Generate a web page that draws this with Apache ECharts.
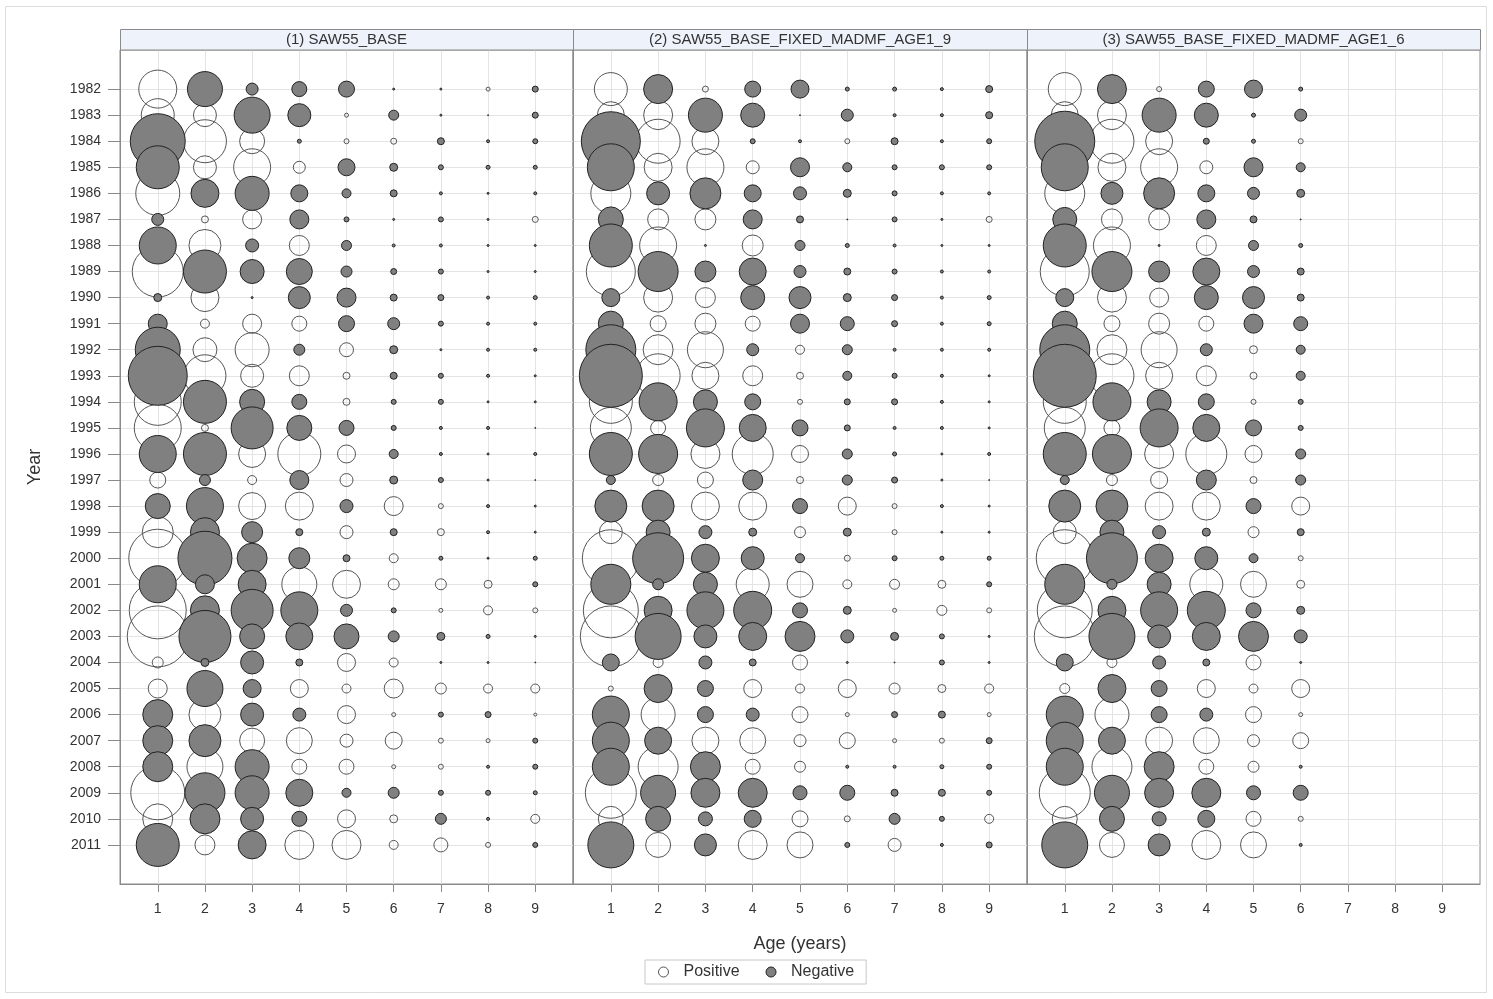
<!DOCTYPE html>
<html>
<head>
<meta charset="utf-8">
<script src="https://cdn.jsdelivr.net/npm/echarts@6/dist/echarts.min.js"></script>
<style>
html,body{margin:0;padding:0;background:#fff;}
#chart{width:1493px;height:999px;}
</style>
</head>
<body>
<div id="chart"></div>
<script>
// ---------------- data ----------------
const years = [1982,1983,1984,1985,1986,1987,1988,1989,1990,1991,1992,1993,1994,1995,1996,
               1997,1998,1999,2000,2001,2002,2003,2004,2005,2006,2007,2008,2009,2010,2011];
const ages = [1,2,3,4,5,6,7,8,9];
const panelTitles = ['(1) SAW55_BASE', '(2) SAW55_BASE_FIXED_MADMF_AGE1_9', '(3) SAW55_BASE_FIXED_MADMF_AGE1_6'];
const legendNames = ['Positive', 'Negative'];

// signed bubble magnitudes, one row per year, one column per age
const resid1 = [
  [ 38,-35,-12,-15,-16, -2, -2,  4, -6],
  [ 33, 23,-36,-23,  4,-10, -2, -1, -6],
  [-55, 43, 25, -4,  5,  6, -7, -3, -5],
  [-43, 23, 37, 12,-17, -8, -5, -4, -4],
  [ 44,-28,-34,-17, -9, -7, -3, -2, -3],
  [-12,  7, 19,-19, -5, -2, -5, -2,  6],
  [-37, 32,-13, 20,-10, -3, -3, -2, -2],
  [ 51,-43,-24,-26,-11, -6, -5, -2, -2],
  [ -8, 28, -2,-22,-19, -7, -6, -3, -4],
  [-19,  9, 19, 15,-16,-12, -5, -3, -3],
  [-45, 24, 34,-11, 14, -8, -2, -3, -3],
  [-59, 42, 23, 20,  7, -7, -5, -3, -2],
  [ 47,-43,-25,-15,  7, -5, -5, -2, -2],
  [ 47,  7,-42,-25,-15, -5, -3, -3, -1],
  [-37,-43, 27, 43, 18, -9, -3, -2, -3],
  [ 16,-11,  9,-19, 13, -8, -5, -2, -1],
  [-25,-37, 27, 28,-13, 19,  5, -3, -2],
  [ 31,-29,-21, -7, 13, -7,  7, -3, -2],
  [ 58,-54,-30,-21, -7,  9, -4, -2, -4],
  [-37,-19,-28, 35, 28, 11, 11,  8, -5],
  [ 57,-29,-42,-37,-12, -5,  4,  9,  5],
  [ 61,-52,-25,-27,-25,-11, -8, -4, -2],
  [ 11, -8,-23, -7, 18,  9, -2, -2, -1],
  [ 19,-36,-18, 18,  9, 19, 11,  9,  9],
  [-30, 32,-23,-13, 18,  4, -5, -6,  3],
  [-30,-32, 25, 26, 13, 17,  5,  4, -5],
  [-30, 36,-34, 15, 15,  4,  5, -3, -5],
  [ 54,-40,-34,-27, -9,-11, -5, -5, -4],
  [ 30,-30,-23,-15, 18,  8,-11, -3,  9],
  [-43, 20,-28, 29, 29,  9, 14,  5, -5]
];
const resid2 = [
  [ 33,-29,  6,-16,-18, -4, -4, -3, -7],
  [ 27, 29,-34,-24, -1,-12, -3, -3, -7],
  [-59, 44, 27, -5, -3,  5, -7, -3, -5],
  [-47, 28, 37, 13,-19, -9, -5, -5, -5],
  [ 40,-23,-31,-17,-13, -8, -5, -3, -3],
  [-25, 21, 21,-19, -7, -1, -5, -2,  6],
  [-43, 37, -2, 21,-10, -4, -3, -2, -2],
  [ 49,-40,-21,-27,-12, -7, -5, -3, -3],
  [-18, 29, 20,-24,-22, -8, -6, -3, -4],
  [-25, 16, 21, 15,-19,-14, -6, -3, -4],
  [-50, 30, 36,-12,  9,-10, -3, -3, -3],
  [-63, 44, 27, 20,  7, -9, -5, -3, -2],
  [ 43,-38,-24,-16,  5, -6, -6, -3, -2],
  [ 41, 15,-38,-27,-16, -6, -3, -3, -2],
  [-43,-39, 29, 41, 17,-10, -4, -2, -3],
  [ -9, 11, 16,-20,  7,-10, -6, -2, -1],
  [-32,-32, 28, 28,-15, 18,  5, -3, -2],
  [ 23,-24,-13, -8, 11, -8,  5, -2, -2],
  [ 57,-51,-28,-23, -9,  6, -5, -4, -4],
  [-40,-11,-24, 33, 26,  9, 10,  8, -5],
  [ 55,-28,-37,-38,-15, -8,  4, 10,  5],
  [ 61,-46,-23,-28,-30,-13, -8, -5, -2],
  [-17, 10,-13, -7, 15, -2, -1, -5, -2],
  [  5,-28,-16, 18,  9, 18, 11,  8,  9],
  [-37, 34,-16,-13, 16,  4, -6, -7,  4],
  [-37,-27, 27, 26, 12, 16,  4,  5, -6],
  [-37, 40,-30, 15, 11, -3, -3, -4, -5],
  [ 51,-35,-29,-29,-14,-15, -7, -7, -5],
  [ 25,-25,-14,-17, 16,  6,-11, -5,  9],
  [-46, 25,-22, 29, 26, -5, 13, -3, -6]
];
const resid3 = [
  [ 33,-29,  5,-16,-18, -4],
  [ 27, 29,-34,-24, -4,-12],
  [-60, 44, 27, -6, -4,  5],
  [-47, 28, 37, 13,-19, -9],
  [ 40,-22,-31,-17,-12, -8],
  [-24, 21, 21,-19, -7, -1],
  [-43, 37, -2, 20,-10, -4],
  [ 49,-40,-21,-27,-12, -7],
  [-18, 29, 19,-24,-22, -7],
  [-25, 16, 21, 15,-19,-14],
  [-50, 30, 36,-12,  8, -9],
  [-63, 44, 27, 20,  7, -9],
  [ 43,-38,-24,-16,  5, -5],
  [ 41, 16,-38,-27,-16, -5],
  [-43,-39, 29, 41, 17,-10],
  [ -9, 11, 17,-20,  7,-10],
  [-32,-32, 28, 28,-15, 18],
  [ 23,-24,-13, -8, 11, -7],
  [ 57,-51,-28,-23, -9,  5],
  [-40,-10,-24, 33, 26,  8],
  [ 55,-28,-37,-38,-15, -8],
  [ 61,-46,-23,-28,-30,-13],
  [-17, 10,-13, -7, 15, -2],
  [ 10,-28,-16, 18,  9, 18],
  [-37, 34,-16,-13, 16,  4],
  [-37,-27, 27, 26, 12, 16],
  [-37, 40,-30, 15, 11, -3],
  [ 51,-35,-29,-29,-14,-15],
  [ 25,-25,-14,-17, 15,  5],
  [-46, 25,-22, 29, 26, -3]
];
const panels = [resid1, resid2, resid3];

// ---------------- layout/style ----------------
const FONT = '"Liberation Sans", Arial, sans-serif';
const BUBBLE_SCALE = 1;
const gridLefts = [120, 573, 1027];
const gridWidths = [453, 454, 453];
const GRID_TOP = 50, GRID_H = 834;

const grids = [], xAxes = [], yAxes = [], series = [], graphics = [];

panels.forEach((mat, p) => {
  grids.push({left: gridLefts[p], top: GRID_TOP, width: gridWidths[p], height: GRID_H,
              show: true, borderColor: '#8a8a8a', borderWidth: 1, backgroundColor: 'transparent'});
  xAxes.push({
    gridIndex: p, type: 'value', min: 0.2, max: 9.8,
    name: p === 1 ? 'Age (years)' : '', nameLocation: 'middle', nameGap: 51,
    nameTextStyle: {fontFamily: FONT, fontSize: 18, color: '#333'},
    axisLine: {show: true, onZero: false, lineStyle: {color: '#8a8a8a'}},
    axisTick: {show: true, customValues: ages, length: 8, lineStyle: {color: '#8a8a8a'}},
    axisLabel: {customValues: ages, fontFamily: FONT, fontSize: 14, color: '#333', margin: 18,
                formatter: v => String(v)},
    splitLine: {show: true, lineStyle: {color: '#e4e4e4'}}
  });
  yAxes.push({
    gridIndex: p, type: 'value', min: 1980.5, max: 2012.5, inverse: true,
    name: p === 0 ? 'Year' : '', nameLocation: 'middle', nameGap: 76,
    nameTextStyle: {fontFamily: FONT, fontSize: 18, color: '#333'},
    axisLine: {show: true, onZero: false, lineStyle: {color: '#8a8a8a'}},
    axisTick: {show: p === 0, customValues: years, length: 12, lineStyle: {color: '#8a8a8a'}},
    axisLabel: {show: p === 0, customValues: years, fontFamily: FONT, fontSize: 14, color: '#333',
                margin: 19, formatter: v => String(v)},
    splitLine: {show: true, lineStyle: {color: '#e4e4e4'}}
  });
  const pos = [], neg = [];
  mat.forEach((row, i) => {
    row.forEach((v, j) => {
      const pt = [ages[j], years[i], v];
      if (v >= 0) pos.push(pt); else neg.push(pt);
    });
  });
  series.push({
    type: 'scatter', name: legendNames[0], xAxisIndex: p, yAxisIndex: p, silent: true,
    symbol: 'circle', symbolSize: d => Math.abs(d[2]) * BUBBLE_SCALE, data: pos, z: 2,
    itemStyle: {color: 'rgba(255,255,255,0)', borderColor: '#555', borderWidth: 1, opacity: 1}
  });
  series.push({
    type: 'scatter', name: legendNames[1], xAxisIndex: p, yAxisIndex: p, silent: true,
    symbol: 'circle', symbolSize: d => Math.abs(d[2]) * BUBBLE_SCALE, data: neg, z: 3,
    itemStyle: {color: '#808080', borderColor: '#222', borderWidth: 1, opacity: 1}
  });
  // panel header strip
  graphics.push({
    type: 'rect', z: 10,
    shape: {x: gridLefts[p] + 0.5, y: 29.5, width: gridWidths[p], height: 20.5},
    style: {fill: '#eef2fa', stroke: '#8a8a8a', lineWidth: 1}
  });
  graphics.push({
    type: 'text', z: 11, x: gridLefts[p] + gridWidths[p] / 2, y: 40,
    style: {text: panelTitles[p], fontFamily: FONT, fontSize: 15, fill: '#333',
            textAlign: 'center', textVerticalAlign: 'middle'}
  });
});

graphics.push({
  type: 'rect', z: -1, silent: true,
  shape: {x: 5.5, y: 6.5, width: 1481, height: 986},
  style: {fill: 'none', stroke: '#dcdcdc', lineWidth: 1}
});

const option = {
  animation: false,
  backgroundColor: '#fff',
  grid: grids,
  xAxis: xAxes,
  yAxis: yAxes,
  series: series,
  graphic: graphics,
  legend: {
    left: 645, top: 960,
    padding: [4, 12, 4, 13],
    itemGap: 26, itemWidth: 10, itemHeight: 10,
    borderColor: '#c8c8c8', borderWidth: 1,
    selectedMode: false,
    textStyle: {fontFamily: FONT, fontSize: 16, color: '#333', padding: [0, 0, 0, 10]},
    data: [
      {name: legendNames[0], icon: 'circle', itemStyle: {color: '#fff', borderColor: '#555', borderWidth: 1}},
      {name: legendNames[1], icon: 'circle', itemStyle: {color: '#808080', borderColor: '#222', borderWidth: 1}}
    ]
  }
};

const chart = echarts.init(document.getElementById('chart'), null, {renderer: 'canvas'});
chart.setOption(option);
</script>
</body>
</html>
